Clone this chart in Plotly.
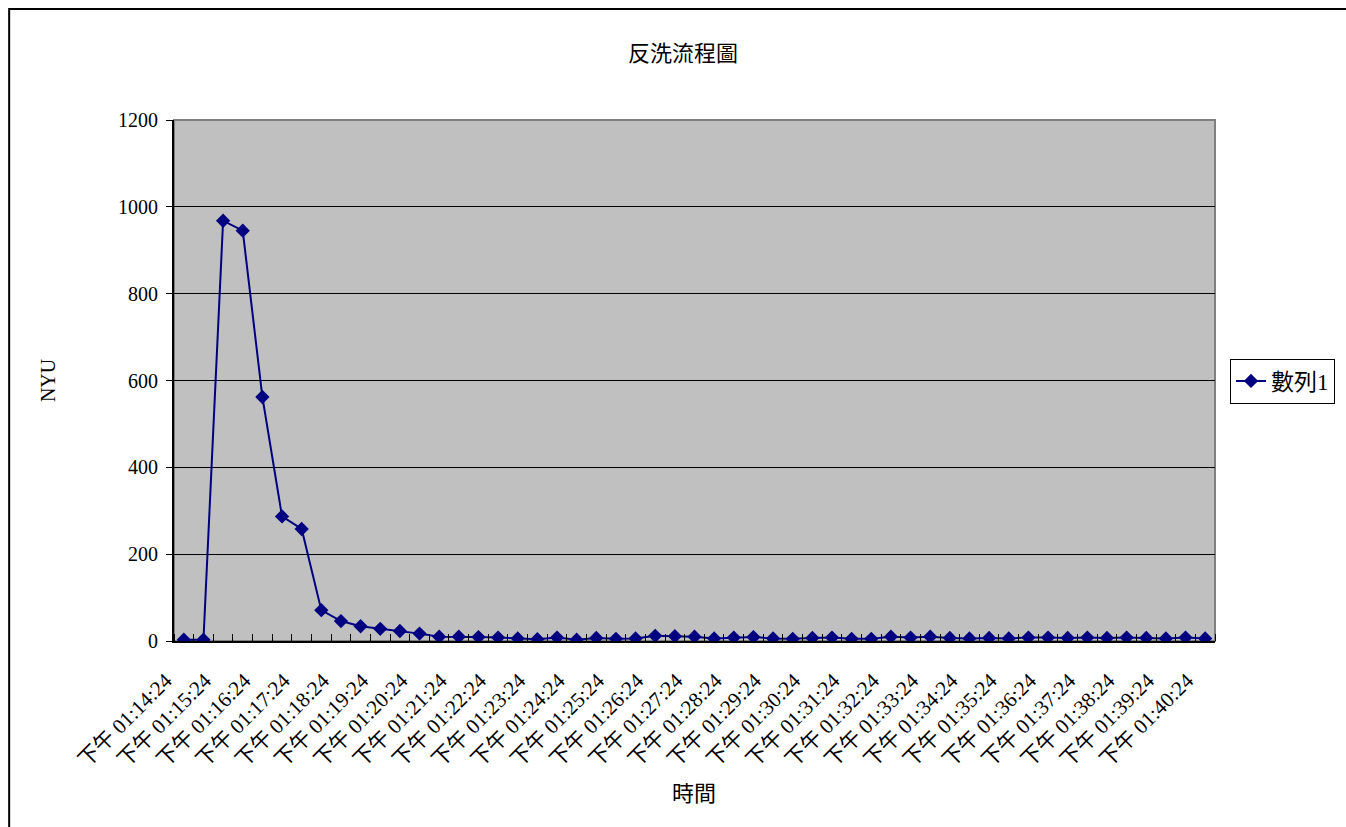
import datetime as dt
import plotly.graph_objects as go

# Backwash turbidity readings, one every 30 seconds from 01:14:24 PM
start_time = dt.datetime(2000, 1, 1, 13, 14, 24)
step_seconds = 30
ntu_values = [3, 3, 968, 945, 562, 287, 258, 71, 46, 34,
              28, 23, 17, 10, 10, 9, 8, 6, 4, 8,
              3, 7, 5, 6, 12, 11, 10, 6, 8, 9,
              6, 5, 7, 8, 5, 5, 10, 8, 10, 7,
              6, 7, 6, 8, 8, 7, 8, 7, 8, 7,
              6, 8, 6]
times = [start_time + dt.timedelta(seconds=step_seconds * i) for i in range(len(ntu_values))]
time_labels = ["下午 " + t.strftime("%I:%M:%S") for t in times]
label_every = 2
y_ticks = [0, 200, 400, 600, 800, 1000, 1200]

series_name = "數列1"
chart_title = "反洗流程圖"
x_title = "時間"
y_title = "NYU"

FONT = "Liberation Serif, Noto Sans CJK TC, serif"
NAVY = "#000080"

x_idx = list(range(len(ntu_values)))

fig = go.Figure()
fig.add_trace(go.Scatter(
    x=x_idx, y=ntu_values, name=series_name, mode="lines+markers",
    line=dict(color=NAVY, width=2),
    marker=dict(symbol="diamond", size=11, color=NAVY),
))

W, H = 1346, 827
L, R, T, B = 174, 130, 120, 186
pw, ph = W - L - R, H - T - B


def px_x(px):
    return (px - L) / pw


def px_y(py):
    return (H - B - py) / ph


fig.update_layout(
    width=W, height=H,
    margin=dict(l=L, r=R, t=T, b=B),
    paper_bgcolor="white",
    plot_bgcolor="#C0C0C0",
    font=dict(family=FONT, color="black", size=18),
    title=dict(text=chart_title, x=683 / W, xanchor="center", y=1 - 53 / H,
               yanchor="middle", font=dict(size=22, family=FONT)),
    showlegend=True,
    legend=dict(x=px_x(1230), xanchor="left", y=px_y(381), yanchor="middle",
                bordercolor="black", borderwidth=1, bgcolor="white",
                font=dict(size=23, family=FONT), itemwidth=30),
    xaxis=dict(
        range=[-0.5, len(ntu_values) - 0.5],
        tickmode="array",
        tickvals=x_idx[::label_every],
        ticktext=time_labels[::label_every],
        tickangle=-45,
        ticks="",
        ticklabelstandoff=17,
        ticklabelshift=-18,
        tickfont=dict(size=21, family=FONT),
        showgrid=False, zeroline=False,
        showline=True, linecolor="black", linewidth=2,
        minor=dict(tick0=-0.5, dtick=1, ticks="inside", ticklen=7,
                   tickcolor="black", tickwidth=1, showgrid=False),
    ),
    yaxis=dict(
        range=[0, 1200],
        tickmode="array", tickvals=y_ticks,
        ticks="outside", ticklen=6, tickcolor="black",
        ticklabelstandoff=4,
        tickfont=dict(size=20, family=FONT),
        showgrid=True, gridcolor="black", gridwidth=1,
        zeroline=False,
        showline=True, linecolor="black", linewidth=2,
    ),
    annotations=[
        dict(text=x_title, xref="paper", yref="paper", x=px_x(694), y=px_y(793),
             showarrow=False, xanchor="center", yanchor="middle",
             font=dict(size=22, family=FONT)),
        dict(text=y_title, xref="paper", yref="paper", x=px_x(48), y=px_y(380),
             showarrow=False, xanchor="center", yanchor="middle", textangle=-90,
             font=dict(size=20, family=FONT)),
    ],
    shapes=[
        # plot area frame
        dict(type="rect", xref="paper", yref="paper", x0=0, x1=1, y0=0, y1=1,
             line=dict(color="#808080", width=2), layer="below"),
        # outer chart frame
        dict(type="rect", xref="paper", yref="paper",
             x0=px_x(9), x1=px_x(W + 10), y0=px_y(H + 10), y1=px_y(9),
             line=dict(color="black", width=2)),
    ],
)

fig.write_html("out.html")
